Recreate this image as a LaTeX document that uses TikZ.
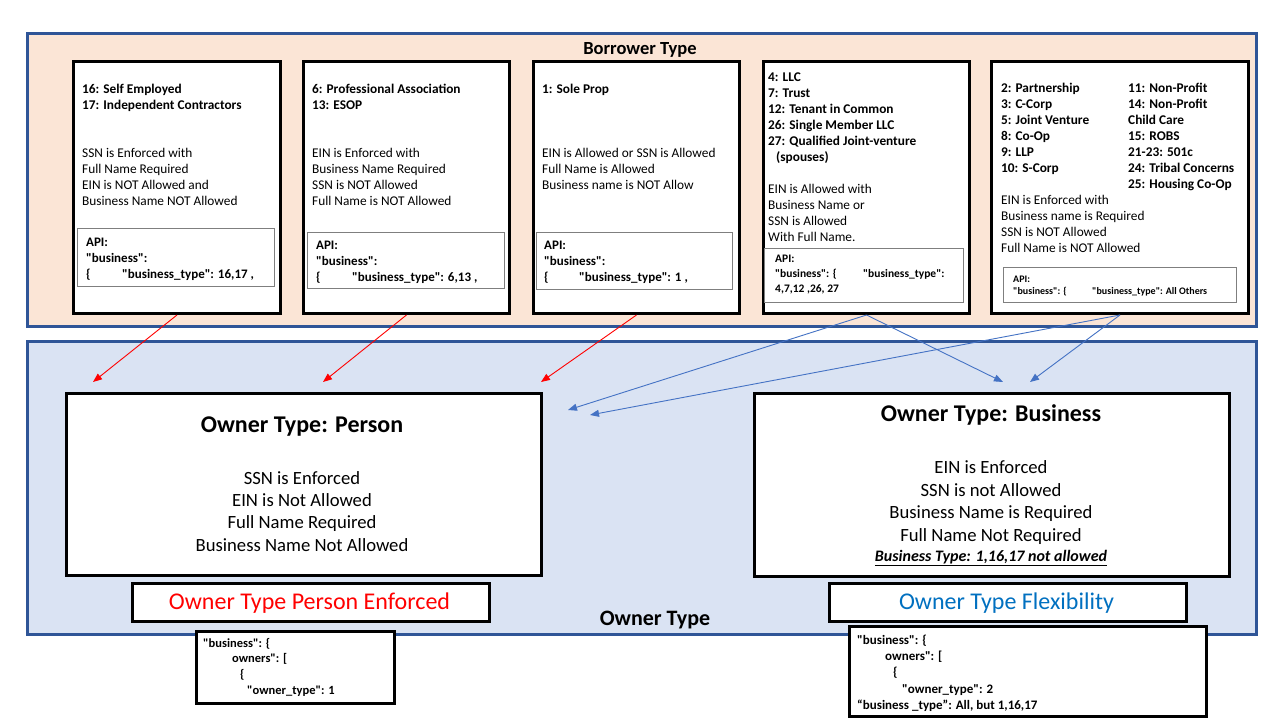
\documentclass[tikz,border=0pt]{standalone}
\usepackage{fontspec}
\setmainfont{Carlito}[Ligatures=TeXOff]
\usetikzlibrary{arrows.meta}
\definecolor{peach}{HTML}{FBE5D6}
\definecolor{lblue}{HTML}{DAE3F3}
\definecolor{dblue}{HTML}{2F5597}
\definecolor{arrblue}{HTML}{4472C4}
\definecolor{flexblue}{HTML}{0070C0}
\definecolor{apigray}{HTML}{7F7F7F}
\newcommand\fl{\rule{0pt}{1em}}
\begin{document}
\begin{tikzpicture}[x=1pt,y=-1pt,
  panel/.style={draw=dblue, line width=2.5pt, anchor=north west, inner sep=0pt},
  card/.style={draw=black, line width=3pt, fill=white, anchor=north west, inner sep=0pt},
  apibox/.style={draw=apigray, line width=1pt, fill=white, anchor=north west, inner sep=0pt},
  txt/.style={anchor=north west, inner sep=0pt, align=left},
  ctxt/.style={anchor=north, inner sep=0pt, align=center},
  sm/.style={font=\fontsize{13.33}{16}\selectfont},
  smb/.style={font=\fontsize{13.33}{16}\selectfont\bfseries},
  apib/.style={font=\fontsize{13}{16}\selectfont\bfseries},
  big/.style={font=\fontsize{18.67}{22.4}\selectfont},
  redarr/.style={draw=red, line width=0.9pt, -{Triangle[length=9pt,width=7pt]}},
  bluarr/.style={draw=arrblue, line width=0.9pt, -{Triangle[length=9pt,width=7pt]}}
]
\useasboundingbox (0,0) rectangle (1280,720);
\fill[white] (0,0) rectangle (1280,720);

% panels
\node[panel, fill=peach, minimum width=1229pt, minimum height=293pt] (top) at (26,32) {};
\node[panel, fill=lblue, minimum width=1229pt, minimum height=293pt] (bot) at (26,340) {};
\node[anchor=base, inner sep=0pt, font=\fontsize{18.5}{22}\selectfont\bfseries] (toplbl) at (640,54) {Borrower Type};
\node[anchor=base, inner sep=0pt, font=\fontsize{22}{26}\selectfont\bfseries] (botlbl) at (655,625) {Owner Type};

% cards
\node[card, minimum width=207pt, minimum height=252pt] (b1) at (72,60) {};
\node[card, minimum width=206pt, minimum height=252pt] (b2) at (302,60) {};
\node[card, minimum width=206pt, minimum height=252pt] (b3) at (532,60) {};
\node[card, minimum width=206pt, minimum height=252pt] (b4) at (762,60) {};
\node[card, minimum width=257pt, minimum height=252pt] (b5) at (990,60) {};

% api boxes
\node[apibox, minimum width=197pt, minimum height=58pt] (a1) at (77,228) {};
\node[apibox, minimum width=197pt, minimum height=56pt] (a2) at (307,232) {};
\node[apibox, minimum width=196pt, minimum height=57pt] (a3) at (536,232) {};
\node[apibox, minimum width=199pt, minimum height=54pt] (a4) at (764,248) {};
\node[apibox, minimum width=233pt, minimum height=35pt] (a5) at (1003,267) {};

% box 1
\node[txt,smb] (t1a) at (82,79.7) {\fl 16: Self Employed\\17: Independent Contractors};
\node[txt,sm] (t1b) at (82,143.7) {\fl SSN is Enforced with\\Full Name Required\\EIN is NOT Allowed and\\Business Name NOT Allowed};
\node[txt,apib] (t1c) at (86,233) {\fl API:\\"business":\\\makebox[36pt][l]{\{}"business\_type": 16,17 ,};

% box 2
\node[txt,smb] (t2a) at (312,79.7) {\fl 6: Professional Association\\13: ESOP};
\node[txt,sm] (t2b) at (312,143.7) {\fl EIN is Enforced with\\Business Name Required\\SSN is NOT Allowed\\Full Name is NOT Allowed};
\node[txt,apib] (t2c) at (316,236) {\fl API:\\"business":\\\makebox[36pt][l]{\{}"business\_type": 6,13 ,};

% box 3
\node[txt,smb] (t3a) at (542,79.7) {\fl 1: Sole Prop};
\node[txt,sm] (t3b) at (542,143.7) {\fl EIN is Allowed or SSN is Allowed\\Full Name is Allowed\\Business name is NOT Allow};
\node[txt,apib] (t3c) at (544,236) {\fl API:\\"business":\\\makebox[35pt][l]{\{}"business\_type": 1 ,};

% box 4
\node[txt,smb] (t4a) at (768,67.7) {\fl 4: LLC\\7: Trust\\12: Tenant in Common\\26: Single Member LLC\\27: Qualified Joint-venture\\\hspace*{8pt}(spouses)};
\node[txt,sm] (t4b) at (768,179.7) {\fl EIN is Allowed with\\Business Name or\\SSN is Allowed\\With Full Name.};
\node[txt,font=\fontsize{11.5}{15}\selectfont\bfseries] (t4c) at (775,250.5) {\fl API:\\\makebox[88pt][l]{"business": \{}"business\_type":\\4,7,12 ,26, 27};

% box 5
\node[txt,smb] (t5a) at (1001,78.7) {\fl 2: Partnership\\3: C-Corp\\5: Joint Venture\\8: Co-Op\\9: LLP\\10: S-Corp};
\node[txt,smb] (t5b) at (1128,78.7) {\fl 11: Non-Profit\\14: Non-Profit\\Child Care\\15: ROBS\\21-23: 501c\\24: Tribal Concerns\\25: Housing Co-Op};
\node[txt,sm] (t5c) at (1001,190.7) {\fl EIN is Enforced with\\Business name is Required\\SSN is NOT Allowed\\Full Name is NOT Allowed};
\node[txt,font=\fontsize{10}{12}\selectfont\bfseries] (t5d) at (1013,272) {\fl API:\\\makebox[79pt][l]{"business": \{}"business\_type": All Others};

% owner boxes
\node[card, minimum width=475pt, minimum height=182pt] (pb) at (65,392) {};
\node[card, minimum width=475pt, minimum height=183pt] (bb) at (753,392) {};
\node[anchor=base, inner sep=0pt, font=\fontsize{24}{28}\selectfont\bfseries] (pbt) at (302,432) {Owner Type: Person};
\node[ctxt,big] (pbl) at (302,465.3) {\fl SSN is Enforced\\EIN is Not Allowed\\Full Name Required\\Business Name Not Allowed};
\node[anchor=base, inner sep=0pt, font=\fontsize{24}{28}\selectfont\bfseries] (bbt) at (991,421) {Owner Type: Business};
\node[ctxt,big] (bbl) at (991,455) {\fl EIN is Enforced\\SSN is not Allowed\\Business Name is Required\\Full Name Not Required};
\node[anchor=base, inner sep=0pt, font=\fontsize{16}{19}\selectfont\bfseries\itshape] (bbn) at (991,561) {\underline{Business Type: 1,16,17 not allowed}};

\node[card, minimum width=357pt, minimum height=38pt] (enf) at (131,582) {};
\node[anchor=base, inner sep=0pt, text=red, font=\fontsize{24}{28}\selectfont] (enft) at (309.5,609) {Owner Type Person Enforced};
\node[card, minimum width=357pt, minimum height=38pt] (flx) at (828,582) {};
\node[anchor=base, inner sep=0pt, text=flexblue, font=\fontsize{24}{28}\selectfont] (flxt) at (1006.5,609) {Owner Type Flexibility};

% json boxes
\node[card, minimum width=198pt, minimum height=72pt] (jl) at (195,630) {};
\node[txt,font=\fontsize{12.5}{15.7}\selectfont\bfseries] (jlt) at (203,634.5) {\fl "business": \{\\\hspace*{29pt}owners": [\\\hspace*{37pt}\{\\\hspace*{44pt}"owner\_type": 1};
\node[card, minimum width=357pt, minimum height=90pt] (jr) at (848,625) {};
\node[txt,font=\fontsize{13}{16.3}\selectfont\bfseries] (jrt) at (857,631) {\fl "business": \{\\\hspace*{28pt}owners": [\\\hspace*{36pt}\{\\\hspace*{45pt}"owner\_type": 2\\“business \_type”: All, but 1,16,17};

% arrow targets
\coordinate (pA) at (93,382);
\coordinate (pB) at (323,382);
\coordinate (pC) at (541,382);
\coordinate (pD) at (568,410);
\coordinate (pE) at (590,415);
\coordinate (pF) at (1003,382);
\coordinate (pG) at (1030,382);

\draw[redarr] (b1.south) -- (pA);
\draw[redarr] (b2.south) -- (pB);
\draw[redarr] (b3.south) -- (pC);
\draw[bluarr] (b4.south) -- (pD);
\draw[bluarr] (b4.south) -- (pF);
\draw[bluarr] (b5.south) -- (pE);
\draw[bluarr] (b5.south) -- (pG);
\end{tikzpicture}
\end{document}
